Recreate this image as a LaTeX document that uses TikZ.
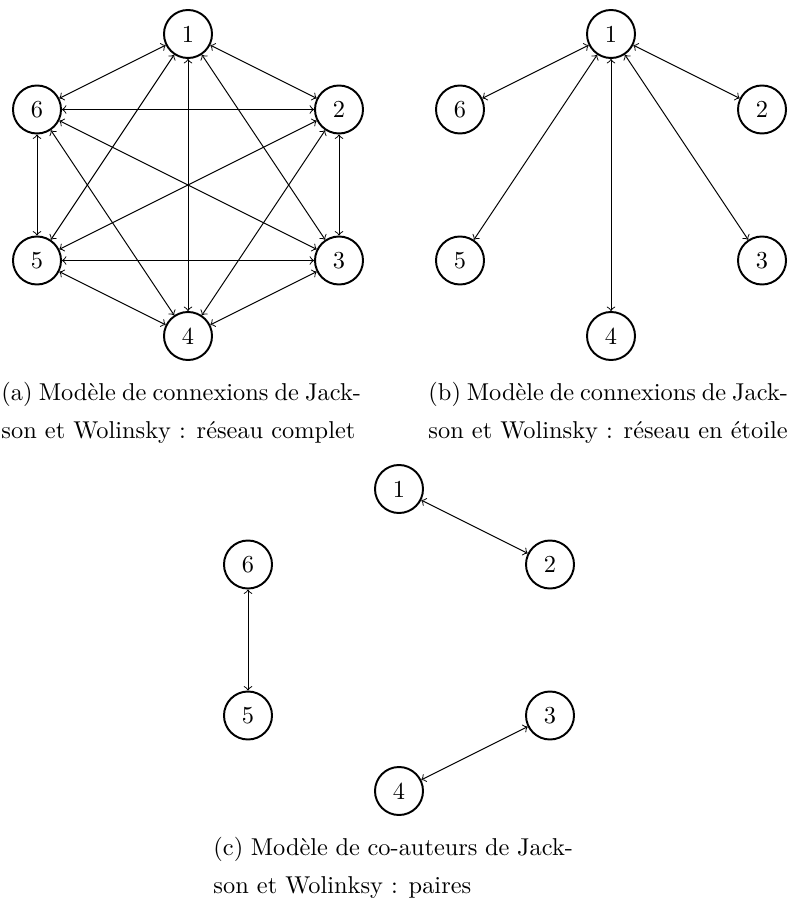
\documentclass[tikz,border=0pt]{standalone}
\begin{document}
\begin{tikzpicture}[x=0.4103pt,y=-0.4103pt,
	agent/.style={circle,draw,thick,minimum size=19.7pt,inner sep=0pt},
	lien/.style={<->},
	legende/.style={anchor=base west,text width=147.5pt,align=justify,inner sep=0pt,font=\fontsize{10}{15.6}\selectfont}]
\useasboundingbox (0,0) rectangle (788,909);
% (a) complete network
\node[agent] (a1) at (188,34) {1};
\node[agent] (a2) at (339,109.5) {2};
\node[agent] (a3) at (339,260.5) {3};
\node[agent] (a4) at (188,336) {4};
\node[agent] (a5) at (37,260.5) {5};
\node[agent] (a6) at (37,109.5) {6};
\draw [lien] (a1) -- (a2);
\draw [lien] (a1) -- (a3);
\draw [lien] (a1) -- (a4);
\draw [lien] (a1) -- (a5);
\draw [lien] (a1) -- (a6);
\draw [lien] (a2) -- (a3);
\draw [lien] (a2) -- (a4);
\draw [lien] (a2) -- (a5);
\draw [lien] (a2) -- (a6);
\draw [lien] (a3) -- (a4);
\draw [lien] (a3) -- (a5);
\draw [lien] (a3) -- (a6);
\draw [lien] (a4) -- (a5);
\draw [lien] (a4) -- (a6);
\draw [lien] (a5) -- (a6);
\node[legende] (capa) at (1,400) {(a) Modèle de connexions de Jack-\linebreak son et Wolinsky : réseau complet};
% (b) star network
\node[agent] (b1) at (611,34) {1};
\node[agent] (b2) at (762,109.5) {2};
\node[agent] (b3) at (762,260.5) {3};
\node[agent] (b4) at (611,336) {4};
\node[agent] (b5) at (460,260.5) {5};
\node[agent] (b6) at (460,109.5) {6};
\draw [lien] (b1) -- (b2);
\draw [lien] (b1) -- (b3);
\draw [lien] (b1) -- (b4);
\draw [lien] (b1) -- (b5);
\draw [lien] (b1) -- (b6);
\node[legende] (capb) at (428,400) {(b) Modèle de connexions de Jack-\linebreak son et Wolinsky : réseau en étoile};
% (c) pairs
\node[agent] (c1) at (399,489) {1};
\node[agent] (c2) at (550,564.5) {2};
\node[agent] (c3) at (550,715.5) {3};
\node[agent] (c4) at (399,791) {4};
\node[agent] (c5) at (248,715.5) {5};
\node[agent] (c6) at (248,564.5) {6};
\draw [lien] (c1) -- (c2);
\draw [lien] (c3) -- (c4);
\draw [lien] (c5) -- (c6);
\node[legende] (capc) at (213,855) {(c) Modèle de co-auteurs de Jack-\linebreak son et Wolinksy : paires};
\end{tikzpicture}
\end{document}
